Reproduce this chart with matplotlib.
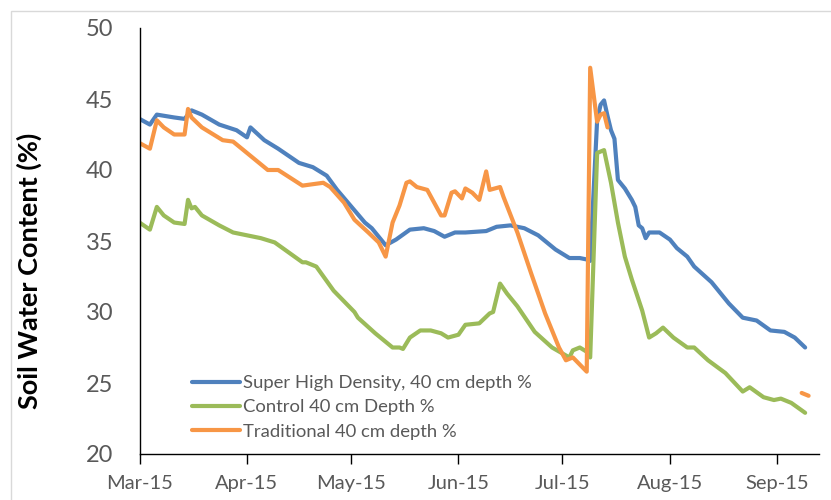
import numpy as np
import pandas as pd
import matplotlib
matplotlib.use('Agg')
import matplotlib.pyplot as plt
import matplotlib.dates as mdates
from matplotlib.patches import Rectangle

# Super High Density, 40 cm
shd_dates = ['03-01', '03-04', '03-06', '03-11', '03-14', '03-16', '03-19', '03-24', '03-29',
             '04-01', '04-02', '04-06', '04-10', '04-16', '04-20', '04-24', '04-27',
             '05-05', '05-07', '05-11', '05-14', '05-18', '05-22', '05-25', '05-28', '05-31',
             '06-03', '06-09', '06-12', '06-16', '06-20', '06-24', '06-29',
             '07-03', '07-06', '07-08', '07-09', '07-11', '07-12', '07-13', '07-14', '07-15',
             '07-16', '07-17', '07-19', '07-21', '07-22', '07-23', '07-24', '07-25', '07-26',
             '07-29', '08-01', '08-03', '08-06', '08-08', '08-13', '08-18', '08-22', '08-26',
             '08-30', '09-03', '09-06', '09-09']
shd_vals = [43.6, 43.2, 43.9, 43.7, 43.6, 44.2, 43.9, 43.2, 42.8,
            42.3, 43.0, 42.1, 41.5, 40.5, 40.2, 39.6, 38.6,
            36.3, 35.9, 34.7, 35.1, 35.8, 35.9, 35.7, 35.3, 35.6,
            35.6, 35.7, 36.0, 36.1, 35.9, 35.4, 34.4,
            33.8, 33.8, 33.7, 33.6, 43.5, 44.6, 44.9, 43.8, 42.8,
            42.2, 39.3, 38.7, 37.9, 37.4, 36.1, 35.9, 35.2, 35.6,
            35.6, 35.1, 34.5, 33.9, 33.2, 32.1, 30.6, 29.6, 29.4,
            28.7, 28.6, 28.2, 27.5]

# Control, 40 cm
ctl_dates = ['03-01', '03-04', '03-06', '03-08', '03-11', '03-14', '03-15', '03-16', '03-17',
             '03-19', '03-24', '03-28', '04-01', '04-05', '04-09', '04-13', '04-17', '04-18',
             '04-21', '04-26', '05-02', '05-03', '05-08', '05-13', '05-15', '05-16', '05-18',
             '05-21', '05-24', '05-27', '05-29', '06-01', '06-03', '06-07', '06-10', '06-11',
             '06-13', '06-15', '06-18', '06-23', '06-28', '07-03', '07-04', '07-06', '07-08',
             '07-09', '07-11', '07-13', '07-15', '07-17', '07-19', '07-21', '07-24', '07-26',
             '07-28', '07-30', '08-02', '08-06', '08-08', '08-12', '08-17', '08-22', '08-24',
             '08-28', '08-31', '09-02', '09-05', '09-09']
ctl_vals = [36.3, 35.8, 37.4, 36.8, 36.3, 36.2, 37.9, 37.3, 37.4,
            36.8, 36.1, 35.6, 35.4, 35.2, 34.9, 34.2, 33.5, 33.5,
            33.2, 31.5, 30.0, 29.6, 28.5, 27.5, 27.5, 27.4, 28.2,
            28.7, 28.7, 28.5, 28.2, 28.4, 29.1, 29.2, 29.9, 30.0,
            32.0, 31.3, 30.4, 28.6, 27.5, 26.8, 27.3, 27.5, 27.2,
            26.8, 41.2, 41.4, 39.1, 36.3, 33.9, 32.3, 30.1, 28.2,
            28.5, 28.9, 28.2, 27.5, 27.5, 26.6, 25.7, 24.4, 24.7,
            24.0, 23.8, 23.9, 23.6, 22.9]

# Traditional, 40 cm (gap from mid July to September)
trd_dates = ['03-01', '03-04', '03-06', '03-08', '03-11', '03-14', '03-15', '03-16', '03-19',
             '03-25', '03-28', '03-31', '04-07', '04-10', '04-17', '04-23', '04-25', '04-29',
             '05-02', '05-06', '05-09', '05-11', '05-13', '05-15', '05-17', '05-18', '05-20',
             '05-23', '05-27', '05-28', '05-30', '05-31', '06-02', '06-03', '06-05', '06-07',
             '06-09', '06-10', '06-13', '06-14', '06-18', '06-22', '06-26', '06-30', '07-02',
             '07-04', '07-06', '07-08', '07-09', '07-11', '07-12', '07-13', '07-14', '07-15',
             '09-08', '09-10']
trd_vals = [41.9, 41.5, 43.5, 43.0, 42.5, 42.5, 44.3, 43.7, 43.0,
            42.1, 42.0, 41.4, 40.0, 40.0, 38.9, 39.1, 38.8, 37.7,
            36.5, 35.6, 34.9, 33.9, 36.3, 37.5, 39.1, 39.2, 38.8,
            38.6, 36.8, 36.8, 38.4, 38.5, 38.0, 38.7, 38.4, 37.9,
            39.9, 38.6, 38.8, 38.1, 35.6, 32.7, 29.9, 27.5, 26.6,
            26.8, 26.3, 25.8, 47.2, 43.4, 43.9, 44.0, 43.0, np.nan,
            24.3, 24.1]

labels = ['Super High Density, 40 cm depth %', 'Control 40 cm Depth %', 'Traditional 40 cm depth %']
colors = ['#4F81BD', '#9BBB59', '#F79646']

def to_dt(lst):
    return pd.to_datetime(['2015-' + d for d in lst])

plt.rcParams['font.family'] = ['Lato', 'DejaVu Sans']

fig = plt.figure(figsize=(8.31, 5.0), dpi=100)
fig.patches.append(Rectangle((11 / 831, -0.1), 1.0, 1.1 - 11 / 500, transform=fig.transFigure,
                             fill=False, edgecolor='#D9D9D9', linewidth=1))
ax = fig.add_axes([139.5 / 831, 1 - 454 / 500, (819 - 139.5) / 831, (454 - 28) / 500])

series = [(shd_dates, shd_vals), (ctl_dates, ctl_vals), (trd_dates, trd_vals)]
for (d, v), lab, c in zip(series, labels, colors):
    ax.plot(to_dt(d), v, color=c, lw=3.0, label=lab, solid_capstyle='round', solid_joinstyle='round')

ax.set_xlim(pd.Timestamp('2015-03-01'), pd.Timestamp('2015-09-13'))
ax.set_ylim(20, 50)
ax.set_yticks(range(20, 51, 5))
ax.xaxis.set_major_locator(mdates.MonthLocator())
ax.xaxis.set_major_formatter(mdates.DateFormatter('%b-%y'))

for s in ['top', 'right']:
    ax.spines[s].set_visible(False)
for s in ['left', 'bottom']:
    ax.spines[s].set_color('black')
    ax.spines[s].set_linewidth(1)

ax.tick_params(axis='y', length=0, pad=19, labelsize=17, labelcolor='#595959')
ax.tick_params(axis='x', length=7, width=1, direction='out', pad=8, labelsize=14.5, labelcolor='#595959')

ax.set_ylabel('Soil Water Content (%)', fontsize=19.5, fontweight='bold')
ax.yaxis.set_label_coords(-0.1435, 0.43)

ax.legend(loc='upper left', bbox_to_anchor=(53 / 680, 1 - (375 - 28) / 426), frameon=False,
          fontsize=13.3, labelcolor='#595959', handlelength=2.6, handletextpad=0.15,
          borderpad=0, borderaxespad=0, labelspacing=0.45)

fig.savefig('out.png', dpi=100)
